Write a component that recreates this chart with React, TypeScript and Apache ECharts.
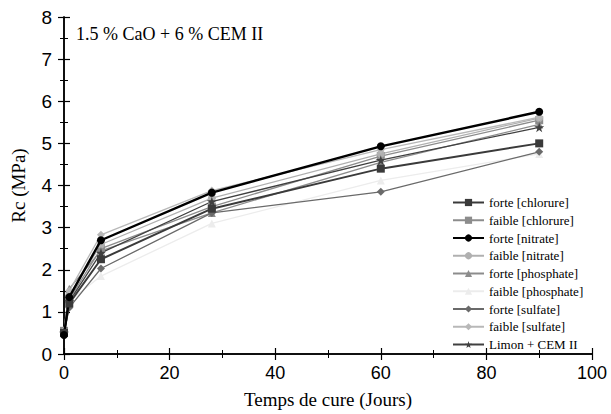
import React, { useEffect, useRef } from "react";
import * as echarts from "echarts";

const days = [0, 1, 7, 28, 60, 90];
const seriesNames = [
  "forte [chlorure]",
  "faible [chlorure]",
  "forte [nitrate]",
  "faible [nitrate]",
  "forte [phosphate]",
  "faible [phosphate]",
  "forte [sulfate]",
  "faible [sulfate]",
  "Limon + CEM II",
];
const forteChlorure = [0.5, 1.2, 2.25, 3.45, 4.4, 5.0];
const faibleChlorure = [0.55, 1.3, 2.5, 3.5, 4.7, 5.55];
const forteNitrate = [0.45, 1.35, 2.7, 3.83, 4.93, 5.75];
const faibleNitrate = [0.5, 1.4, 2.6, 3.7, 4.75, 5.6];
const fortePhosphate = [0.55, 1.55, 2.45, 3.35, 4.55, 5.45];
const faiblePhosphate = [0.5, 1.25, 1.85, 3.1, 4.12, 4.75];
const forteSulfate = [0.5, 1.1, 2.03, 3.35, 3.85, 4.8];
const faibleSulfate = [0.55, 1.5, 2.83, 3.88, 4.85, 5.62];
const limonCem = [0.5, 1.25, 2.4, 3.62, 4.6, 5.38];

const allValues = [
  forteChlorure,
  faibleChlorure,
  forteNitrate,
  faibleNitrate,
  fortePhosphate,
  faiblePhosphate,
  forteSulfate,
  faibleSulfate,
  limonCem,
];
const colors = ["#3a3a3a", "#8c8c8c", "#000000", "#b0b0b0", "#8c8c8c", "#ececec", "#6a6a6a", "#b8b8b8", "#404040"];
const symbols = [
  "rect",
  "rect",
  "circle",
  "circle",
  "triangle",
  "triangle",
  "diamond",
  "diamond",
  "path://M50,0 L61,35 L98,35 L68,57 L79,91 L50,70 L21,91 L32,57 L2,35 L39,35 Z",
];
const widths = [2, 1.3, 2.4, 1.3, 1.3, 1.3, 1.3, 1.3, 1.3];

export default function App() {
  const ref = useRef<HTMLDivElement>(null);
  useEffect(() => {
    document.body.style.margin = "0";
    if (!ref.current) return;
    const chart = echarts.init(ref.current, undefined, { renderer: "svg" });
    const axisCommon = {
      axisLine: { show: true, lineStyle: { color: "#000", width: 1.5 } },
      axisTick: { show: true, length: 6, inside: false, lineStyle: { color: "#000", width: 1.2 } },
      minorTick: { show: true, splitNumber: 2, length: 4, lineStyle: { color: "#000", width: 1 } },
      splitLine: { show: false },
    };
    chart.setOption({
      animation: false,
      backgroundColor: "#fff",
      grid: { left: 64, right: 19, top: 17, bottom: 60, containLabel: false },
      xAxis: [
        {
          type: "value",
          min: 0,
          max: 100,
          interval: 20,
          position: "bottom",
          ...axisCommon,
          axisLabel: { fontFamily: "Liberation Sans", fontSize: 18, color: "#000", margin: 10 },
          name: "Temps de cure (Jours)",
          nameLocation: "middle",
          nameGap: 36,
          nameTextStyle: { fontFamily: "Liberation Serif", fontSize: 19, color: "#000" },
        },
        {
          type: "value",
          min: 0,
          max: 100,
          interval: 20,
          position: "top",
          ...axisCommon,
          axisLabel: { show: false },
        },
      ],
      yAxis: [
        {
          type: "value",
          min: 0,
          max: 8,
          interval: 1,
          position: "left",
          ...axisCommon,
          axisLabel: { fontFamily: "Liberation Sans", fontSize: 19, color: "#000", margin: 12 },
          name: "Rc (MPa)",
          nameLocation: "middle",
          nameGap: 36,
          nameRotate: 90,
          nameTextStyle: { fontFamily: "Liberation Serif", fontSize: 19, color: "#000" },
        },
        {
          type: "value",
          min: 0,
          max: 8,
          interval: 1,
          position: "right",
          ...axisCommon,
          axisLabel: { show: false },
        },
      ],
      legend: {
        orient: "vertical",
        left: 447,
        top: 191,
        itemWidth: 31,
        itemHeight: 9,
        itemGap: 4.75,
        textStyle: { fontFamily: "Liberation Serif", fontSize: 13, color: "#000", lineHeight: 12 },
        data: seriesNames,
      },
      graphic: [
        {
          type: "text",
          left: 76,
          top: 25,
          style: { text: "1.5 % CaO + 6 % CEM II", font: "18px 'Liberation Serif'", fill: "#000" },
        },
      ],
      series: allValues.map((vals, i) => ({
        name: seriesNames[i],
        type: "line",
        xAxisIndex: 0,
        yAxisIndex: 0,
        data: days.map((d, j) => [d, vals[j]]),
        symbol: symbols[i],
        symbolSize: i === 8 ? 10 : 8,
        itemStyle: { color: colors[i] },
        lineStyle: { color: colors[i], width: widths[i] },
        z: i === 2 || i === 0 ? 5 : 2,
      })),
    });
    return () => chart.dispose();
  }, []);
  return <div ref={ref} style={{ width: 611, height: 414 }} />;
}
